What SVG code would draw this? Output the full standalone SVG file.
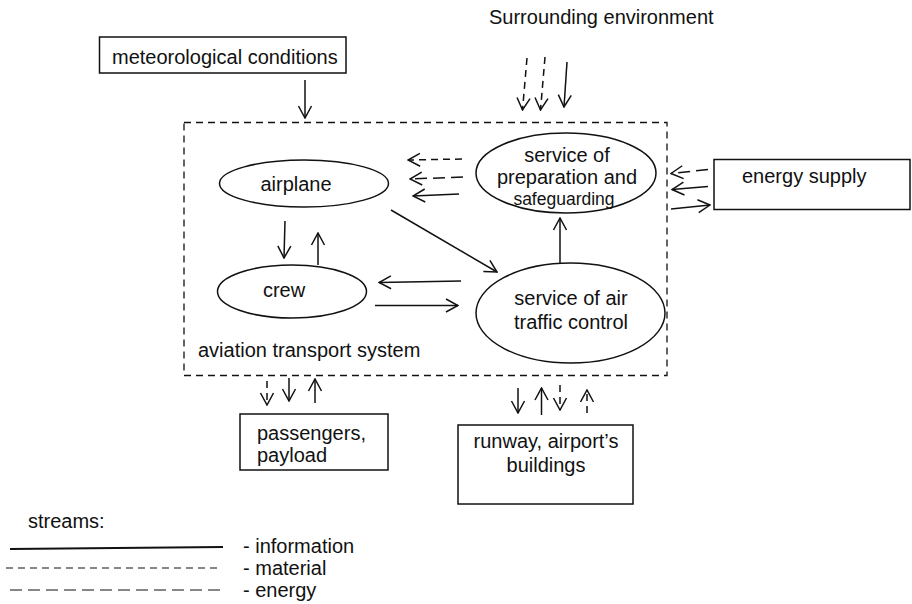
<svg xmlns="http://www.w3.org/2000/svg" width="912" height="604" viewBox="0 0 912 604">
<style>
text{font-family:"Liberation Sans",Arial,sans-serif;font-size:20px;fill:#111}
.box{fill:#fff;stroke:#111;stroke-width:1.5}
.el{fill:#fff;stroke:#111;stroke-width:1.5}
.c{fill:none;stroke:#111;stroke-width:1.5;marker-end:url(#ah)}
.mat{stroke-dasharray:7 5}
.en{stroke-dasharray:12 6}
.mid{text-anchor:middle}
</style>
<defs>
<marker id="ah" viewBox="-13 -8 14 16" refX="0" refY="0" markerWidth="14" markerHeight="16" markerUnits="userSpaceOnUse" orient="auto">
<path d="M-12,-6.5 L0,0 L-12,6.5" fill="none" stroke="#111" stroke-width="1.5" stroke-dasharray="none"/>
</marker>
</defs>
<rect width="912" height="604" fill="#fff"/>

<g id="system">
<rect x="184" y="122.5" width="483" height="253" fill="none" stroke="#111" stroke-width="1.3" stroke-dasharray="7 5"/>
<text x="198" y="357">aviation transport system</text>
</g>

<g id="environment"><text x="489" y="24">Surrounding environment</text></g>

<g id="meteo">
<rect class="box" x="99.5" y="37" width="246.5" height="36"/>
<text x="112" y="64">meteorological conditions</text>
</g>

<g id="airplane">
<ellipse class="el" cx="304" cy="183.5" rx="84.5" ry="23.5"/>
<text class="mid" x="296" y="191">airplane</text>
</g>

<g id="crew">
<ellipse class="el" cx="292" cy="291.5" rx="74.5" ry="26.5"/>
<text class="mid" x="284" y="297">crew</text>
</g>

<g id="prep">
<ellipse class="el" cx="566" cy="173" rx="90" ry="40"/>
<text class="mid" x="567" y="162">service of</text>
<text class="mid" x="567" y="184">preparation and</text>
<text class="mid" x="564" y="205" style="font-size:17.5px">safeguarding</text>
</g>

<g id="atc">
<ellipse class="el" cx="570.5" cy="313" rx="94.5" ry="50"/>
<text class="mid" x="571" y="305">service of air</text>
<text class="mid" x="571" y="329">traffic control</text>
</g>

<g id="energy">
<rect class="box" x="714" y="159.5" width="196" height="50"/>
<text x="742" y="183">energy supply</text>
</g>

<g id="passengers">
<rect class="box" x="240" y="414" width="148" height="56"/>
<text x="257" y="440">passengers,</text>
<text x="257" y="462">payload</text>
</g>

<g id="runway">
<rect class="box" x="458" y="425" width="175" height="79"/>
<text class="mid" x="546" y="448">runway, airport’s</text>
<text class="mid" x="546" y="472">buildings</text>
</g>

<g id="connectors">
<path class="c mat" d="M527,58 L522.5,110"/>
<path class="c mat" d="M545,57 L540.5,110"/>
<path class="c" d="M567,62 L564,107"/>
<path class="c" d="M305,80 L305,118"/>
<path class="c mat" d="M462,159 L408,160"/>
<path class="c en" d="M463,177 L410,179"/>
<path class="c" d="M459,194 L413,196"/>
<path class="c en" d="M708,169.5 L671,173.5"/>
<path class="c" d="M708,186.5 L672,189.5"/>
<path class="c" d="M671,209 L710,205"/>
<path class="c" d="M285,221 L284,258"/>
<path class="c" d="M318,265 L318,233"/>
<path class="c" d="M391,210 L497,272"/>
<path class="c" d="M461,281 L379,282.5"/>
<path class="c" d="M375,305.5 L458,305.5"/>
<path class="c" d="M560,263 L560,218"/>
<path class="c mat" d="M267,381 L267,405"/>
<path class="c" d="M289,378 L289,401"/>
<path class="c" d="M315,403 L315,379"/>
<path class="c" d="M518,388 L518,413"/>
<path class="c" d="M541.5,415 L541.5,388"/>
<path class="c mat" d="M560,385 L560,410"/>
<path class="c mat" d="M587,413 L587,390"/>
</g>

<g id="legend">
<text x="28" y="528">streams:</text>
<path d="M10,549 L223,547" stroke="#111" stroke-width="1.8" fill="none"/>
<text x="243" y="553">- information</text>
<path d="M6,568 L220,568" stroke="#111" stroke-width="1.2" fill="none" stroke-dasharray="7 5"/>
<text x="243" y="575">- material</text>
<path d="M10,590 L220,590" stroke="#111" stroke-width="1.2" fill="none" stroke-dasharray="12 6"/>
<text x="243" y="597">- energy</text>
</g>
</svg>
